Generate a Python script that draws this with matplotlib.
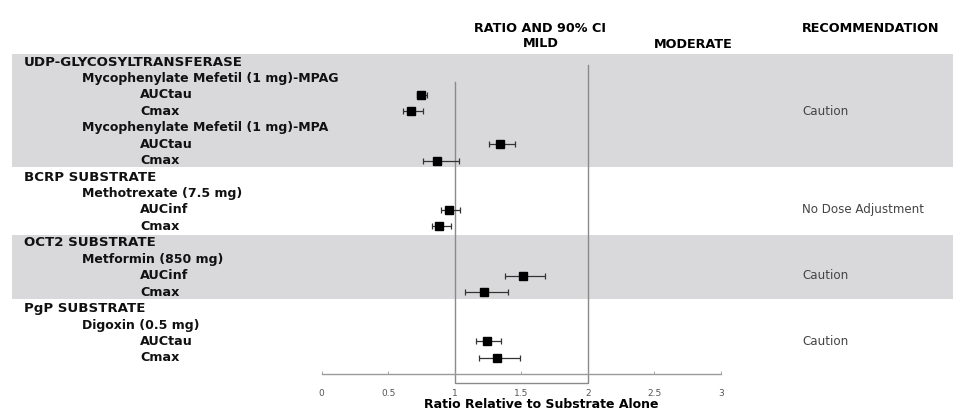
import numpy as np
import matplotlib
matplotlib.use("Agg")
import matplotlib.pyplot as plt

# ---------------- data ----------------
row_labels = [
    "UDP-GLYCOSYLTRANSFERASE",
    "Mycophenylate Mefetil (1 mg)-MPAG", "AUCtau", "Cmax",
    "Mycophenylate Mefetil (1 mg)-MPA", "AUCtau", "Cmax",
    "BCRP SUBSTRATE",
    "Methotrexate (7.5 mg)", "AUCinf", "Cmax",
    "OCT2 SUBSTRATE",
    "Metformin (850 mg)", "AUCinf", "Cmax",
    "PgP SUBSTRATE",
    "Digoxin (0.5 mg)", "AUCtau", "Cmax",
]
row_levels = [0, 1, 2, 2, 1, 2, 2, 0, 1, 2, 2, 0, 1, 2, 2, 0, 1, 2, 2]
nan = np.nan
ratio   = [nan, nan, 0.75, 0.67, nan, 1.34, 0.87, nan, nan, 0.96, 0.88, nan, nan, 1.51, 1.22, nan, nan, 1.24, 1.32]
ci_low  = [nan, nan, 0.72, 0.61, nan, 1.26, 0.76, nan, nan, 0.90, 0.83, nan, nan, 1.38, 1.08, nan, nan, 1.16, 1.18]
ci_high = [nan, nan, 0.79, 0.76, nan, 1.45, 1.03, nan, nan, 1.04, 0.97, nan, nan, 1.68, 1.40, nan, nan, 1.35, 1.49]

group_start = [0, 7, 11, 15]
group_end = [6, 10, 14, 18]
group_shaded = [True, False, True, False]
recommendations = ["Caution", "No Dose Adjustment", "Caution", "Caution"]
rec_rows = [3, 9, 13, 17]

xticks = [0, 0.5, 1, 1.5, 2, 2.5, 3]
xtick_labels = ["0", "0.5", "1", "1.5", "2", "2.5", "3"]
x_label = "Ratio Relative to Substrate Alone"

# ---------------- layout ----------------
W, H = 954, 412
fig = plt.figure(figsize=(W / 100, H / 100), dpi=100)
fig.patch.set_facecolor("white")

px0, px3 = 321.7, 720.7          # pixel positions of x=0 and x=3
ax_bottom_px = 373.5
ax = fig.add_axes([px0 / W, (H - ax_bottom_px) / H, (px3 - px0) / W, ax_bottom_px / H])
ax.set_facecolor("none")

row0_px, row_step = 62.0, 16.44
y_bottom = (ax_bottom_px - row0_px) / row_step
y_top = -row0_px / row_step
ax.set_xlim(0, 3)
ax.set_ylim(y_bottom, y_top)

unit = (px3 - px0) / 3.0
def px2x(p):
    return (p - px0) / unit
def py2y(p):
    return (p - row0_px) / row_step

for s in ["top", "left", "right"]:
    ax.spines[s].set_visible(False)
ax.spines["bottom"].set_color("#9a9a9a")
ax.spines["bottom"].set_linewidth(1.0)
ax.set_yticks([])
ax.set_xticks(xticks)
ax.set_xticklabels(xtick_labels)
ax.tick_params(axis="x", direction="in", length=2, width=0.6, colors="#9a9a9a",
               labelsize=6.5, labelcolor="#555555", pad=11)
ax.set_xlabel(x_label, fontsize=9, fontweight="bold")
ax.xaxis.label.set_va("center")
ax.xaxis.set_label_coords((541 - px0) / (px3 - px0), -(404.5 - ax_bottom_px) / ax_bottom_px)

# gray bands
band_x0 = (12 - px0) / (px3 - px0)
band_x1 = (W - px0) / (px3 - px0)
for gs, ge, sh in zip(group_start, group_end, group_shaded):
    if sh:
        ax.axhspan(gs - 0.5, ge + 0.4, xmin=band_x0, xmax=band_x1,
                   facecolor="#d9d9dc", edgecolor="none", zorder=0, clip_on=False)

# reference box at 1 and 2
box_bottom = py2y(383.3)
ax.plot([1, 1, 2, 2], [py2y(81.7), box_bottom, box_bottom, py2y(65)],
        color="#8a8a8a", lw=1.0, clip_on=False, zorder=1)

# forest points
r = np.array(ratio); lo = np.array(ci_low); hi = np.array(ci_high)
rows = np.arange(len(row_labels))
m = ~np.isnan(r)
ax.errorbar(r[m], rows[m], xerr=[r[m] - lo[m], hi[m] - r[m]], fmt="s",
            color="black", ecolor="#333333", elinewidth=0.9, capsize=2.5,
            capthick=0.9, markersize=5.5, zorder=3, clip_on=False)

# row labels
indent_px = [24, 82, 140]
level_size = [9.6, 9.0, 9.2]
for i, (lab, lev) in enumerate(zip(row_labels, row_levels)):
    ax.text(px2x(indent_px[lev]), i, lab, ha="left", va="center",
            fontsize=level_size[lev], fontweight="bold", color="#111111", clip_on=False)

# recommendations
for rec, rr in zip(recommendations, rec_rows):
    ax.text(px2x(802), rr, rec, ha="left", va="center", fontsize=8.6,
            color="#444444", clip_on=False)

# headers
hsize = 9.2
ax.text(px2x(540), py2y(29), "RATIO AND 90% CI", ha="center", va="center",
        fontsize=hsize, fontweight="bold", clip_on=False)
ax.text(px2x(541), py2y(43.5), "MILD", ha="center", va="center",
        fontsize=hsize, fontweight="bold", clip_on=False)
ax.text(px2x(693), py2y(44.5), "MODERATE", ha="center", va="center",
        fontsize=hsize, fontweight="bold", clip_on=False)
ax.text(px2x(802), py2y(29), "RECOMMENDATION", ha="left", va="center",
        fontsize=hsize, fontweight="bold", clip_on=False)

fig.savefig("out.png", dpi=100, facecolor="white")
